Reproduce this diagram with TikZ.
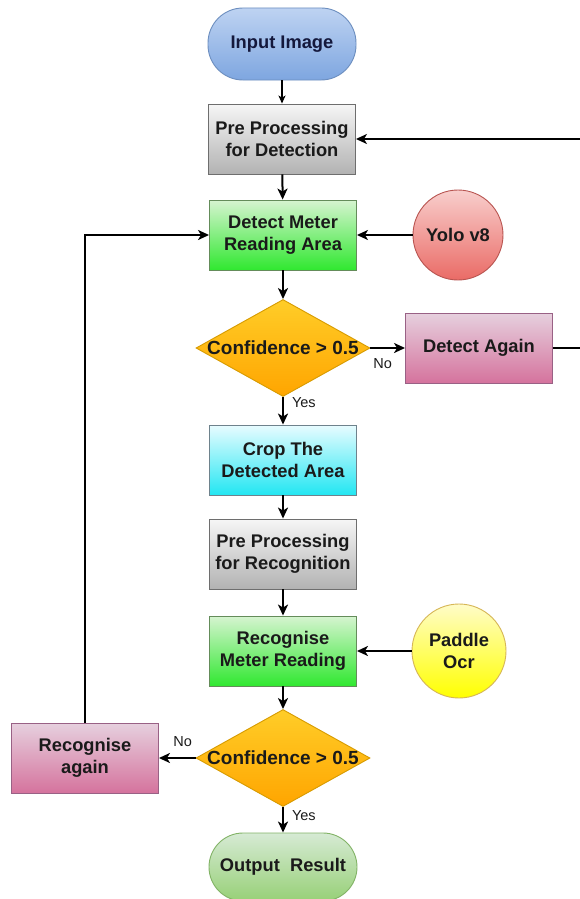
\documentclass[tikz,border=0pt]{standalone}
\usepackage{fontspec}
\setmainfont{Liberation Sans}
\usetikzlibrary{shapes.geometric,arrows.meta}
\definecolor{txtc}{HTML}{1A1A1A}
\begin{document}
\begin{tikzpicture}[x=1pt,y=-1pt,
  base/.style={draw, line width=0.9pt, align=center, inner sep=0pt, text=txtc,
    font=\fontsize{18.3}{22}\selectfont\bfseries},
  box/.style={base, rectangle, minimum width=147pt, minimum height=70pt},
  term/.style={base, rectangle, rounded corners=35pt, minimum width=148pt, minimum height=72pt},
  circ/.style={base, circle},
  dia/.style={base, diamond, minimum width=174pt, minimum height=97pt},
  blue/.style={top color={rgb,255:red,190;green,211;blue,242}, bottom color={rgb,255:red,126;green,166;blue,224}, draw={rgb,255:red,108;green,142;blue,191}, text={rgb,255:red,20;green,24;blue,60}},
  gray/.style={top color={rgb,255:red,246;green,246;blue,246}, bottom color={rgb,255:red,178;green,178;blue,178}, draw={rgb,255:red,110;green,110;blue,110}},
  green/.style={top color={rgb,255:red,214;green,244;blue,208}, bottom color={rgb,255:red,48;green,232;blue,48}, draw={rgb,255:red,100;green,140;blue,90}},
  red/.style={top color={rgb,255:red,248;green,206;blue,204}, bottom color={rgb,255:red,234;green,107;blue,102}, draw={rgb,255:red,184;green,84;blue,80}},
  orange/.style={top color={rgb,255:red,255;green,205;blue,40}, bottom color={rgb,255:red,255;green,165;blue,0}, draw={rgb,255:red,215;green,155;blue,0}},
  pink/.style={top color={rgb,255:red,230;green,208;blue,222}, bottom color={rgb,255:red,213;green,115;blue,157}, draw={rgb,255:red,153;green,97;blue,133}},
  cyan/.style={top color={rgb,255:red,232;green,252;blue,255}, bottom color={rgb,255:red,34;green,230;blue,242}, draw={rgb,255:red,110;green,130;blue,140}},
  yellow/.style={top color={rgb,255:red,255;green,252;blue,200}, bottom color={rgb,255:red,255;green,255;blue,0}, draw={rgb,255:red,214;green,182;blue,86}},
  lgreen/.style={top color={rgb,255:red,214;green,234;blue,212}, bottom color={rgb,255:red,151;green,208;blue,119}, draw={rgb,255:red,130;green,179;blue,102}},
  arr/.style={line width=2pt, -{Stealth[length=11pt,width=10pt,inset=3pt]}},
  thinarr/.style={line width=1.3pt, -{Stealth[length=8pt,width=7pt,inset=2pt]}},
  lbl/.style={font=\fontsize{14.5}{16}\selectfont, text=txtc, inner sep=1pt},
  dtext/.style={base, draw=none, font=\fontsize{19}{22}\selectfont\bfseries}
]
\useasboundingbox (0,0) rectangle (580,899);
\fill[white] (0,0) rectangle (580,899);

\node[term, blue]   (in)    at (282,44)  {Input Image};
\node[box, gray]    (pre1)  at (282,139) {Pre Processing\\for Detection};
\node[box, green]   (det)   at (283,235) {Detect Meter\\Reading Area};
\node[circ, red, minimum size=90pt] (yolo) at (458,235) {Yolo v8};
\node[dia, orange]  (d1)    at (283,348) {};
\node[dtext] (d1t) at (d1) {Confidence > 0.5};
\node[box, pink]    (again) at (479,348) {Detect Again};
\node[box, cyan]    (crop)  at (283,460) {Crop The\\Detected Area};
\node[box, gray]    (pre2)  at (283,554) {Pre Processing\\for Recognition};
\node[box, green]   (rec)   at (283,651) {Recognise\\Meter Reading};
\node[circ, yellow, minimum size=94pt] (paddle) at (459,651) {Paddle\\Ocr};
\node[dia, orange]  (d2)    at (283,758) {};
\node[dtext] (d2t) at (d2) {Confidence > 0.5};
\node[box, pink]    (again2) at (85,758) {Recognise\\again};
\node[term, lgreen, minimum height=68pt, rounded corners=34pt] (out) at (283,867) {Output\ \ Result};

\coordinate (rt) at (596,348);

\draw[thinarr] (in) -- (pre1);
\draw[arr] (pre1) -- (det);
\draw[arr] (det) -- (d1);
\draw[arr] (yolo) -- (det);
\draw[arr] (d1.east) -- node[lbl, pos=0, anchor=north west, xshift=1pt, yshift=-9pt] {No} (again.west);
\draw[arr] (again.east) -- (rt) |- (pre1.east);
\draw[arr] (d1.south) -- node[lbl, pos=0.2, anchor=west, xshift=7pt] {Yes} (crop.north);
\draw[arr] (crop) -- (pre2);
\draw[arr] (pre2) -- (rec);
\draw[arr] (paddle) -- (rec);
\draw[arr] (rec) -- (d2);
\draw[arr] (d2.west) -- node[lbl, pos=0.35, anchor=south, yshift=9pt] {No} (again2.east);
\draw[arr] (again2.north) |- (det.west);
\draw[arr] (d2.south) -- node[lbl, pos=0.35, anchor=west, xshift=7pt] {Yes} (out.north);
\end{tikzpicture}
\end{document}
